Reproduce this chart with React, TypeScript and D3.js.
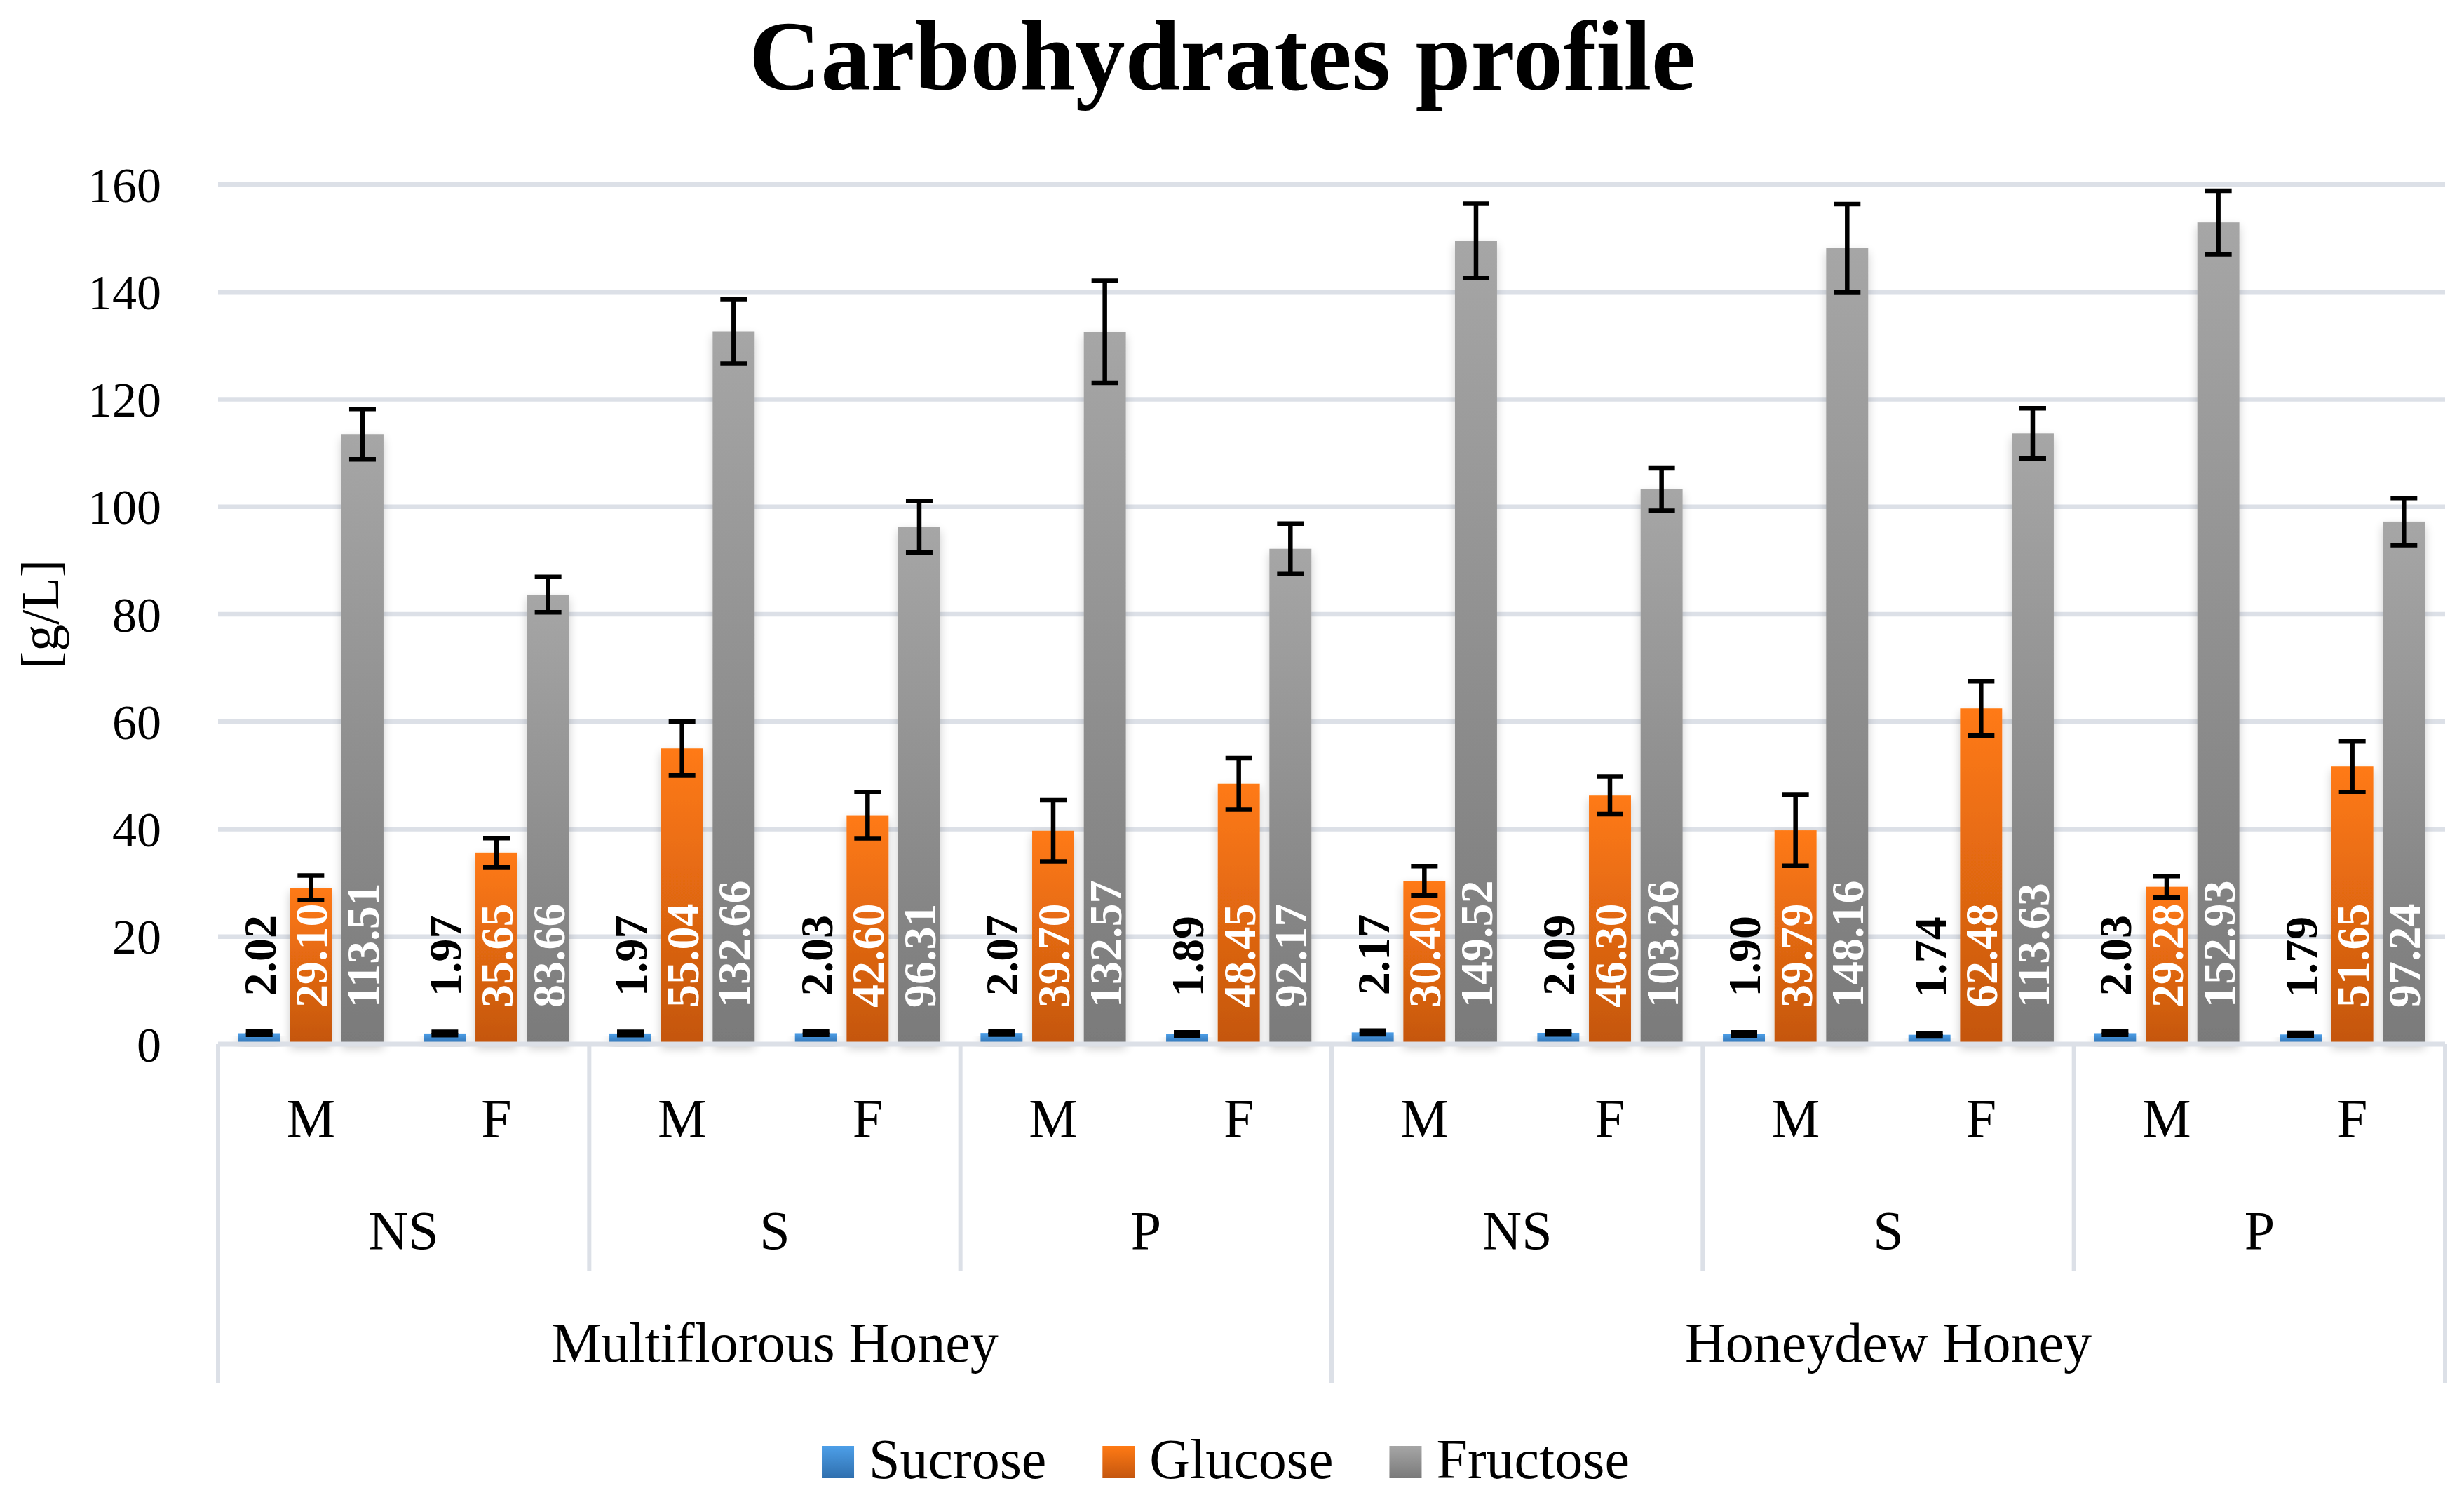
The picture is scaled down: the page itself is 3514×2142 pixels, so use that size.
import React, { useEffect, useRef } from 'react';
import * as d3 from 'd3';

const honeyTypes = ['Multiflorous Honey', 'Honeydew Honey'];
const treatments = ['NS', 'S', 'P'];
const sexes = ['M', 'F'];
const seriesNames = ['Sucrose', 'Glucose', 'Fructose'];

const sucrose = [2.02, 1.97, 1.97, 2.03, 2.07, 1.89, 2.17, 2.09, 1.90, 1.74, 2.03, 1.79];
const glucose = [29.10, 35.65, 55.04, 42.60, 39.70, 48.45, 30.40, 46.30, 39.79, 62.48, 29.28, 51.65];
const fructose = [113.51, 83.66, 132.66, 96.31, 132.57, 92.17, 149.52, 103.26, 148.16, 113.63, 152.93, 97.24];

const sucroseErr = [0.3, 0.3, 0.3, 0.3, 0.3, 0.3, 0.35, 0.3, 0.3, 0.3, 0.3, 0.3];
const glucoseErr = [2.3, 2.7, 5.0, 4.3, 5.7, 4.8, 2.7, 3.5, 6.6, 5.1, 2.0, 4.7];
const fructoseErr = [4.7, 3.3, 6.0, 4.8, 9.5, 4.7, 6.9, 4.0, 8.2, 4.7, 5.9, 4.4];

const yTicks = [0, 20, 40, 60, 80, 100, 120, 140, 160];

const W = 3514;
const H = 2142;
const FONT = '"Liberation Serif", "Times New Roman", serif';
const GRID = '#DCE0E7';

// top / bottom colours of each series gradient
const gradStops: Record<string, [string, string]> = {
    Sucrose: ['#4D9FE8', '#2F6FAE'],
    Glucose: ['#FF7A14', '#C4560F'],
    Fructose: ['#A6A6A6', '#7A7A7A'],
};

const Chart: React.FC = () => {
    const svgRef = useRef<SVGSVGElement>(null);

    useEffect(() => {
        if (!svgRef.current) return;
        const svg = d3.select(svgRef.current);
        svg.selectAll('*').remove();

        const left = 311, right = 3487, top = 263, bottom = 1489;

        const cats = honeyTypes.flatMap(h => treatments.flatMap(t => sexes.map(s => `${h}|${t}|${s}`)));
        const values: Record<string, number[]> = { Sucrose: sucrose, Glucose: glucose, Fructose: fructose };
        const errors: Record<string, number[]> = { Sucrose: sucroseErr, Glucose: glucoseErr, Fructose: fructoseErr };

        const x0 = d3.scaleBand().domain(cats).range([left, right]);
        const x1 = d3.scaleBand().domain(seriesNames).range([0, x0.bandwidth()])
            .paddingInner(0.186).paddingOuter(0.39);
        const y = d3.scaleLinear().domain([0, 160]).range([bottom, top]);

        const defs = svg.append('defs');
        seriesNames.forEach(s => {
            const g = defs.append('linearGradient').attr('id', `grad-${s}`)
                .attr('x1', 0).attr('y1', 0).attr('x2', 0).attr('y2', 1);
            g.append('stop').attr('offset', '0%').attr('stop-color', gradStops[s][0]);
            g.append('stop').attr('offset', '100%').attr('stop-color', gradStops[s][1]);
        });
        const f = defs.append('filter').attr('id', 'shadow')
            .attr('x', '-60%').attr('y', '-10%').attr('width', '220%').attr('height', '130%');
        f.append('feGaussianBlur').attr('in', 'SourceAlpha').attr('stdDeviation', 7).attr('result', 'blur');
        f.append('feOffset').attr('in', 'blur').attr('dy', 6).attr('result', 'off');
        f.append('feComponentTransfer').attr('in', 'off').attr('result', 'sh')
            .append('feFuncA').attr('type', 'linear').attr('slope', 0.2);
        const merge = f.append('feMerge');
        merge.append('feMergeNode').attr('in', 'sh');
        merge.append('feMergeNode').attr('in', 'SourceGraphic');

        svg.append('rect').attr('width', W).attr('height', H).attr('fill', '#fff');

        // title
        svg.append('text')
            .attr('x', 1743).attr('y', 128)
            .attr('text-anchor', 'middle')
            .style('font-family', FONT).style('font-weight', 'bold').style('font-size', '142px')
            .text('Carbohydrates profile');

        // grid
        svg.append('g').selectAll('line')
            .data(yTicks.filter(d => d > 0))
            .join('line')
            .attr('x1', left).attr('x2', right)
            .attr('y1', d => y(d)).attr('y2', d => y(d))
            .style('stroke', GRID).style('stroke-width', 6.5);

        // y tick labels
        svg.append('g').selectAll('text')
            .data(yTicks)
            .join('text')
            .attr('x', 230).attr('y', d => y(d)).attr('dy', '0.35em')
            .attr('text-anchor', 'end')
            .style('font-family', FONT).style('font-size', '70px')
            .text(d => d);

        svg.append('text')
            .attr('transform', `translate(56, ${(top + bottom) / 2}) rotate(-90)`)
            .attr('text-anchor', 'middle').attr('dy', '0.35em')
            .style('font-family', FONT).style('font-size', '76px')
            .text('[g/L]');

        // bars
        const groups = svg.append('g').selectAll('g')
            .data(cats)
            .join('g')
            .attr('transform', d => `translate(${x0(d)},0)`);

        seriesNames.forEach(s => {
            groups.append('rect')
                .attr('x', x1(s)!)
                .attr('width', x1.bandwidth())
                .attr('y', (_, i) => y(values[s][i]))
                .attr('height', (_, i) => bottom - y(values[s][i]))
                .attr('fill', `url(#grad-${s})`)
                .attr('filter', 'url(#shadow)');
        });

        // axis line
        svg.append('line')
            .attr('x1', left).attr('x2', right)
            .attr('y1', bottom).attr('y2', bottom)
            .style('stroke', GRID).style('stroke-width', 7);

        // error bars
        seriesNames.forEach(s => {
            const cx = x1(s)! + x1.bandwidth() / 2;
            const eb = groups.append('g').style('stroke', '#000').style('stroke-width', 6.5);
            eb.append('line')
                .attr('x1', cx).attr('x2', cx)
                .attr('y1', (_, i) => y(values[s][i] + errors[s][i]))
                .attr('y2', (_, i) => y(values[s][i] - errors[s][i]));
            [1, -1].forEach(sign => {
                eb.append('line')
                    .attr('x1', cx - 19).attr('x2', cx + 19)
                    .attr('y1', (_, i) => y(values[s][i] + sign * errors[s][i]))
                    .attr('y2', (_, i) => y(values[s][i] + sign * errors[s][i]));
            });
        });

        // data labels
        seriesNames.forEach(s => {
            const cx = x1(s)! + x1.bandwidth() / 2;
            groups.append('text')
                .attr('transform', (_, i) => {
                    const yy = s === 'Sucrose' ? y(values[s][i]) - 53 : bottom - 52;
                    return `translate(${cx},${yy}) rotate(-90)`;
                })
                .attr('dy', '0.35em')
                .style('font-family', FONT).style('font-weight', 'bold').style('font-size', '66px')
                .style('fill', s === 'Sucrose' ? '#000' : '#fff')
                .text((_, i) => values[s][i].toFixed(2));
        });

        // category axis
        const cax = svg.append('g');
        cax.selectAll('text.sex')
            .data(cats)
            .join('text')
            .attr('class', 'sex')
            .attr('x', d => x0(d)! + x0.bandwidth() / 2).attr('y', 1621)
            .attr('text-anchor', 'middle')
            .style('font-family', FONT).style('font-size', '78px')
            .text(d => d.split('|')[2]);

        const pairs = cats.filter((_, i) => i % 2 === 0);
        cax.selectAll('text.treat')
            .data(pairs)
            .join('text')
            .attr('class', 'treat')
            .attr('x', d => x0(d)! + x0.bandwidth()).attr('y', 1781)
            .attr('text-anchor', 'middle')
            .style('font-family', FONT).style('font-size', '78px')
            .text(d => d.split('|')[1]);

        const step = x0.step();
        cax.selectAll('text.honey')
            .data(honeyTypes)
            .join('text')
            .attr('class', 'honey')
            .attr('x', (_, i) => left + step * 6 * i + step * 3).attr('y', 1942)
            .attr('text-anchor', 'middle')
            .style('font-family', FONT).style('font-size', '80px')
            .text(d => d);

        const bounds = d3.range(0, 7);
        cax.selectAll('line')
            .data(bounds)
            .join('line')
            .attr('x1', i => left + step * 2 * i).attr('x2', i => left + step * 2 * i)
            .attr('y1', bottom)
            .attr('y2', i => (i % 3 === 0 ? 1972 : 1812))
            .style('stroke', GRID).style('stroke-width', 6);

        // legend
        const legend = svg.append('g');
        let cursor = 0;
        seriesNames.forEach(s => {
            const item = legend.append('g').attr('transform', `translate(${cursor},0)`);
            item.append('rect')
                .attr('x', 0).attr('y', 2062).attr('width', 46).attr('height', 46)
                .attr('fill', `url(#grad-${s})`);
            const t = item.append('text')
                .attr('x', 67).attr('y', 2108)
                .style('font-family', FONT).style('font-size', '80px')
                .text(s);
            const tw = (t.node() as SVGTextElement).getComputedTextLength();
            cursor += 67 + tw + 80;
        });
        const total = cursor - 80;
        legend.attr('transform', `translate(${1748 - total / 2},0)`);
    }, []);

    return (
        <svg
            ref={svgRef}
            width={W}
            height={H}
            style={{ display: 'block', position: 'absolute', left: 0, top: 0 }}
        />
    );
};

const App: React.FC = () => <Chart />;

export default App;
